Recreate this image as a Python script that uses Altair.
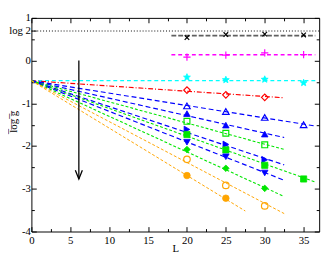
import math
import altair as alt
import pandas as pd

W, H = 295, 219
X_DOMAIN = [0, 37]
Y_DOMAIN = [-4, 1]
LOG2 = math.log(2)
FONT = "Liberation Serif"

# ---------------- data ----------------
series = ["x", "plus", "star", "diamond_open", "tri_open", "tri_up", "sq_open",
          "tri_right", "sq", "tri_down", "diamond", "circ_open", "circ"]

pt_L = {
    "x": [20, 25, 30, 35],
    "plus": [20, 25, 30, 35],
    "star": [20, 25, 30, 35],
    "diamond_open": [20, 25, 30],
    "tri_open": [20, 25, 30, 35],
    "tri_up": [20, 25, 30],
    "sq_open": [20, 25, 30],
    "tri_right": [20, 25, 30],
    "sq": [20, 25, 30, 35],
    "tri_down": [20, 25, 30],
    "diamond": [20, 25, 30],
    "circ_open": [20, 25, 30],
    "circ": [20, 25],
}
pt_y = {
    "x": [0.54, 0.61, 0.62, 0.60],
    "plus": [0.08, 0.13, 0.18, 0.14],
    "star": [-0.39, -0.45, -0.44, -0.52],
    "diamond_open": [-0.69, -0.80, -0.86],
    "tri_open": [-1.06, -1.19, -1.33, -1.50],
    "tri_up": [-1.24, -1.51, -1.72],
    "sq_open": [-1.42, -1.70, -1.97],
    "tri_right": [-1.61, -1.96, -2.32],
    "sq": [-1.73, -2.09, -2.45, -2.77],
    "tri_down": [-1.91, -2.25, -2.63],
    "diamond": [-2.08, -2.52, -2.99],
    "circ_open": [-2.31, -2.92, -3.40],
    "circ": [-2.69, -3.22],
}
# fitted lines: (start L, start y, end L, end y)
line_L0 = [18.0, 18.0, 0, 0, 0, 0, 0, 0, 0, 0, 0, 0, 0]
line_y0 = [0.585, 0.135, -0.47, -0.47, -0.47, -0.47, -0.47, -0.47, -0.47, -0.47, -0.47, -0.47, -0.47]
line_L1 = [36.5, 36.5, 36.5, 32.5, 36.5, 32.5, 32.5, 32.5, 36.5, 32.5, 32.5, 32.5, 27.5]
line_y1 = [0.585, 0.135, -0.47, -0.87, -1.53, -1.80, -2.08, -2.44, -2.84, -2.80, -3.18, -3.58, -3.52]

arrow_L = [6.1, 6.1]
arrow_y = [0.0, -2.77]
arrow_head_y = [-2.67]

log2_L = [0, 37]

x_major = [0, 5, 10, 15, 20, 25, 30, 35]
x_minor = [2.5, 7.5, 12.5, 17.5, 22.5, 27.5, 32.5]
y_major = [-4, -3, -2, -1, 0, 1]
y_labels = [-4, -3, -2, -1, 0, LOG2, 1]
y_minor = [-3.5, -2.5, -1.5, -0.5, 0.5]

# ---------------- styles ----------------
def star_path(n=5, r_in=0.45):
    pts = []
    for k in range(2 * n):
        r = 1.0 if k % 2 == 0 else r_in
        a = -math.pi / 2 + k * math.pi / n
        pts.append(f"{r*math.cos(a):.3f},{r*math.sin(a):.3f}")
    return "M" + "L".join(pts) + "Z"

BLUE, GREEN, ORANGE = "#0000ff", "#00e600", "#ffa500"
style = {
    "x": dict(color="#000000", lc="#606060", shape="M-1,-1L1,1M-1,1L1,-1", filled=False, size=22, dash=[5, 2], lw=1.8),
    "plus": dict(color="#ff00ff", lc="#ff00ff", shape="M-1,0L1,0M0,-1L0,1", filled=False, size=55, dash=[4, 3], lw=1.5),
    "star": dict(color="#00ffff", lc="#00ffff", shape=star_path(), filled=True, size=55, dash=[4, 3], lw=1.3),
    "diamond_open": dict(color="#ff0000", lc="#ff0000", shape="diamond", filled=False, size=45, dash=[5, 2, 1, 2], lw=1.2),
    "tri_open": dict(color=BLUE, lc=BLUE, shape="triangle-up", filled=False, size=45, dash=[5, 3], lw=1.2),
    "tri_up": dict(color=BLUE, lc=BLUE, shape="triangle-up", filled=True, size=45, dash=[5, 3], lw=1.2),
    "sq_open": dict(color=GREEN, lc=GREEN, shape="square", filled=False, size=36, dash=[3, 2], lw=1.1),
    "tri_right": dict(color=BLUE, lc=BLUE, shape="triangle-right", filled=True, size=45, dash=[5, 3], lw=1.2),
    "sq": dict(color=GREEN, lc=GREEN, shape="square", filled=True, size=40, dash=[3, 2], lw=1.1),
    "tri_down": dict(color=BLUE, lc=BLUE, shape="triangle-down", filled=True, size=45, dash=[5, 3], lw=1.2),
    "diamond": dict(color=GREEN, lc=GREEN, shape="diamond", filled=True, size=45, dash=[3, 2], lw=1.1),
    "circ_open": dict(color=ORANGE, lc=ORANGE, shape="circle", filled=False, size=45, dash=[3, 2], lw=1.0),
    "circ": dict(color=ORANGE, lc=ORANGE, shape="circle", filled=True, size=45, dash=[3, 2], lw=1.0),
}

xs = alt.Scale(domain=X_DOMAIN, nice=False, zero=False)
ys = alt.Scale(domain=Y_DOMAIN, nice=False, zero=False)

def X(axis=None):
    return alt.X("L:Q", scale=xs, axis=axis)

def Y(axis=None):
    return alt.Y("v:Q", scale=ys, axis=axis)

layers = []

# label axes (no ticks)
lab_df = pd.DataFrame({"L": [0], "v": [0]})
y_label_expr = ("abs(datum.value - 0.6931) < 0.01 ? 'log 2' : "
                "(datum.value < 0 ? '-' + abs(datum.value) : '' + datum.value)")
layers.append(
    alt.Chart(lab_df).mark_point(opacity=0).encode(
        x=X(alt.Axis(orient="bottom", values=x_major, ticks=False, domain=False,
                     labelPadding=3, title="L", titleY=11, titleBaseline="top",
                     labelFlush=False)),
        y=Y(alt.Axis(orient="left", values=y_labels, labelExpr=y_label_expr,
                     ticks=False, domain=False, labelPadding=1,
                     title="l\u0305o\u0305g\u0305 \u0305g\u0305",
                     titleX=-18, titleY=106, titleAngle=-90,
                     titleAlign="center", titleBaseline="middle",
                     labelFlush=False)),
    )
)

def tick_layer(channel, values, orient, offset, size):
    df = pd.DataFrame({"L": [0], "v": [0]})
    ax = alt.Axis(orient=orient, offset=offset, values=values, labels=False,
                  domain=False, ticks=True, tickSize=size, title=None)
    enc = {"x": X(ax)} if channel == "x" else {"y": Y(ax)}
    return alt.Chart(df).mark_point(opacity=0).encode(**enc)

layers.append(tick_layer("x", x_major, "top", -H, 5))
layers.append(tick_layer("x", x_minor, "top", -H, 3))
layers.append(tick_layer("x", x_major, "bottom", -H, 5))
layers.append(tick_layer("x", x_minor, "bottom", -H, 3))
layers.append(tick_layer("y", y_major + [LOG2], "right", -W, 5))
layers.append(tick_layer("y", y_minor, "right", -W, 3))
layers.append(tick_layer("y", y_major, "left", -W, 5))
layers.append(tick_layer("y", y_minor, "left", -W, 3))

# dotted log 2 line
log2_df = pd.DataFrame({"L": log2_L, "v": [LOG2] * len(log2_L)})
layers.append(alt.Chart(log2_df).mark_line(color="black", strokeWidth=1, strokeDash=[1, 2]).encode(x=X(), y=Y()))

# series
for i, s in enumerate(series):
    st = style[s]
    ldf = pd.DataFrame({"L": [line_L0[i], line_L1[i]], "v": [line_y0[i], line_y1[i]]})
    layers.append(alt.Chart(ldf).mark_line(color=st["lc"], strokeWidth=st["lw"],
                                           strokeDash=st["dash"]).encode(x=X(), y=Y()))
for i, s in enumerate(series):
    st = style[s]
    pdf = pd.DataFrame({"L": pt_L[s], "v": pt_y[s]})
    if st["filled"]:
        mk = alt.Chart(pdf).mark_point(shape=st["shape"], size=st["size"], filled=True,
                                       fill=st["color"], stroke=st["color"], strokeWidth=0.8, opacity=1)
    else:
        mk = alt.Chart(pdf).mark_point(shape=st["shape"], size=st["size"], filled=False,
                                       stroke=st["color"], strokeWidth=1.2, opacity=1)
    layers.append(mk.encode(x=X(), y=Y()))

# arrow
adf = pd.DataFrame({"L": arrow_L, "v": arrow_y})
layers.append(alt.Chart(adf).mark_line(color="black", strokeWidth=1.3).encode(x=X(), y=Y()))
hdf = pd.DataFrame({"L": arrow_L[:1], "v": arrow_head_y})
layers.append(alt.Chart(hdf).mark_point(shape="M-0.8,-1L0,1L0.8,-1", size=81, filled=False,
                                        stroke="black", strokeWidth=1.3, opacity=1).encode(x=X(), y=Y()))

chart = alt.layer(*layers).resolve_axis(x="independent", y="independent").properties(
    width=W, height=H,
    autosize=alt.AutoSizeParams(type="none"),
    padding={"left": 24, "top": 7, "right": 7, "bottom": 24},
    background="white",
).configure_view(stroke="black", strokeWidth=1).configure_axis(
    grid=False, labelFont=FONT, labelFontSize=11, labelColor="black",
    titleFont=FONT, titleFontSize=11, titleFontWeight="normal", titleColor="black",
    tickColor="black", tickWidth=1,
)

chart.save("out.html", embed_options={"renderer": "svg", "actions": False})
